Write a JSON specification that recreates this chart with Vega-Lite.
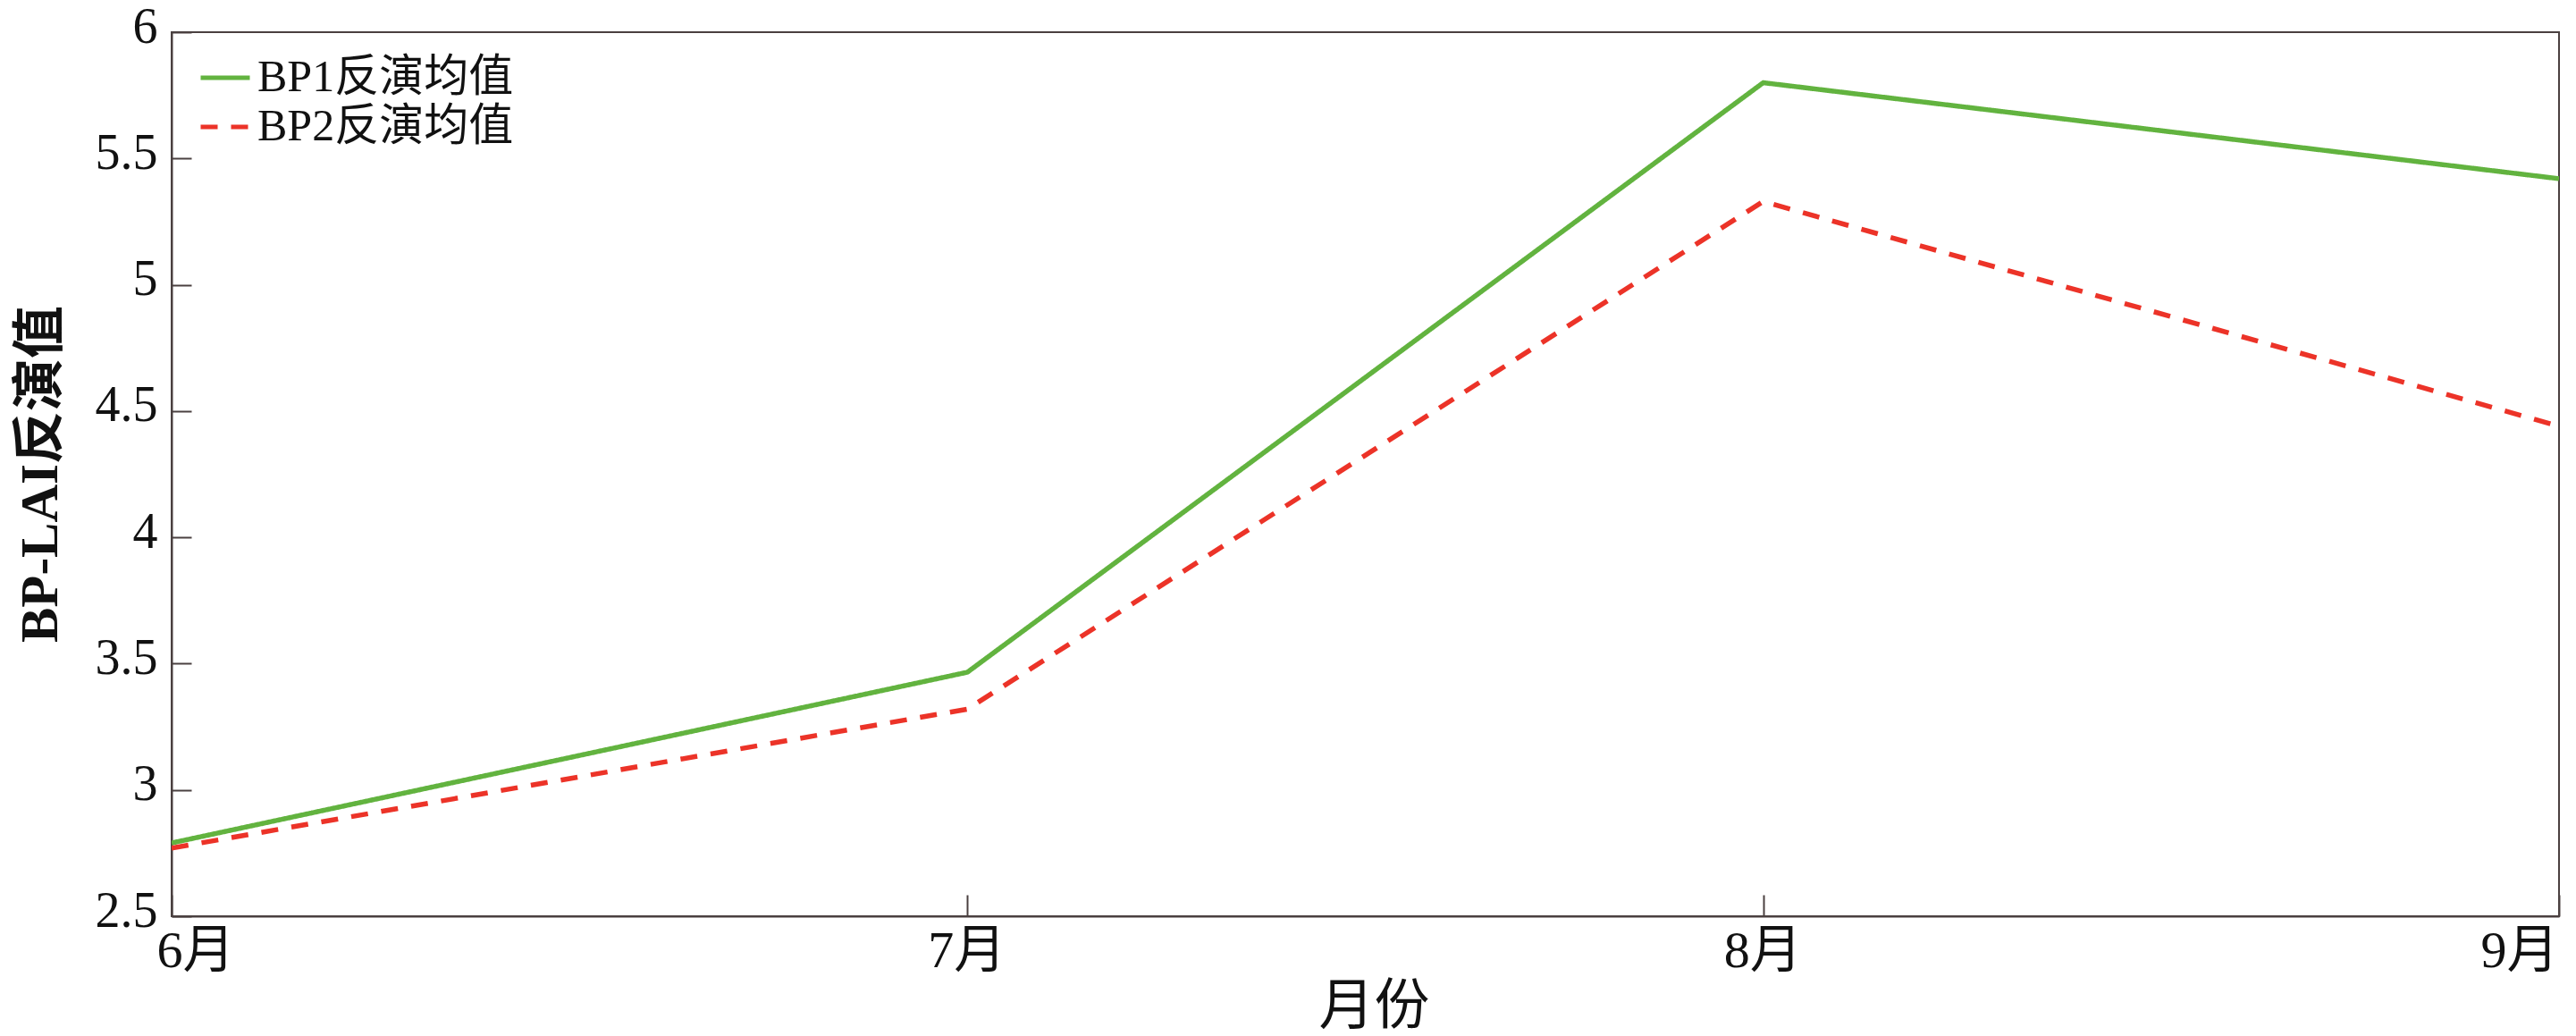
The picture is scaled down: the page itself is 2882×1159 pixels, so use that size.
{
  "$schema": "https://vega.github.io/schema/vega-lite/v6.json",
  "width": 2671,
  "height": 989,
  "autosize": {"type": "none"},
  "padding": {"left": 192, "top": 36, "right": 19, "bottom": 134},
  "background": "white",
  "data": {
    "values": [
      {"month": "6月", "series": "BP1反演均值", "value": 2.79},
      {"month": "7月", "series": "BP1反演均值", "value": 3.466},
      {"month": "8月", "series": "BP1反演均值", "value": 5.80},
      {"month": "9月", "series": "BP1反演均值", "value": 5.42},
      {"month": "6月", "series": "BP2反演均值", "value": 2.77},
      {"month": "7月", "series": "BP2反演均值", "value": 3.32},
      {"month": "8月", "series": "BP2反演均值", "value": 5.33},
      {"month": "9月", "series": "BP2反演均值", "value": 4.44}
    ]
  },
  "mark": {"type": "line", "strokeWidth": 5.5, "clip": true},
  "encoding": {
    "x": {
      "field": "month",
      "type": "ordinal",
      "sort": ["6月", "7月", "8月", "9月"],
      "scale": {"type": "point", "padding": 0},
      "axis": {
        "title": "月份",
        "labelAngle": 0,
        "labelFlush": true,
        "labelFlushOffset": 0,
        "labelOffset": {"condition": {"test": "datum.value === '6月'", "value": -17}, "value": -1},
        "labelFontSize": 58,
        "tickSize": -24,
        "labelPadding": 34,
        "titleX": 1345,
        "titleY": 101,
        "titleBaseline": "middle",
        "titleFontSize": 62,
        "titleFontWeight": "normal"
      }
    },
    "y": {
      "field": "value",
      "type": "quantitative",
      "scale": {"domain": [2.5, 6], "nice": false, "zero": false},
      "axis": {
        "title": "BP-LAI反演值",
        "values": [2.5, 3, 3.5, 4, 4.5, 5, 5.5, 6],
        "format": "~g",
        "tickSize": -22,
        "labelPadding": 38,
        "labelOffset": -6,
        "labelFontSize": 56,
        "titleX": -147,
        "titleY": 494,
        "titleAngle": -90,
        "titleBaseline": "middle",
        "titleFontSize": 59,
        "titleFontWeight": "bold"
      }
    },
    "color": {
      "field": "series",
      "type": "nominal",
      "scale": {"domain": ["BP1反演均值", "BP2反演均值"], "range": ["#62b33f", "#ec3328"]},
      "legend": {"title": null}
    },
    "strokeDash": {
      "field": "series",
      "type": "nominal",
      "scale": {"domain": ["BP1反演均值", "BP2反演均值"], "range": [[1, 0], [19, 15]]},
      "legend": {"title": null}
    }
  },
  "config": {
    "font": "Liberation Serif, Noto Sans CJK SC",
    "view": {"stroke": "#4a4040", "strokeWidth": 2},
    "axis": {
      "grid": false,
      "domainColor": "#4a4040",
      "domainWidth": 2,
      "tickColor": "#4a4040",
      "tickWidth": 2,
      "labelFont": "Liberation Serif, Noto Sans CJK SC",
      "titleFont": "Liberation Serif, Noto Sans CJK SC",
      "labelColor": "#111111",
      "titleColor": "#111111"
    },
    "legend": {
      "orient": "none",
      "legendX": 30,
      "legendY": 21,
      "padding": 0,
      "labelFont": "Liberation Serif, Noto Sans CJK SC",
      "labelFontSize": 50,
      "labelLimit": 0,
      "labelColor": "#111111",
      "symbolType": "stroke",
      "symbolSize": 3025,
      "symbolStrokeWidth": 5,
      "labelOffset": 6,
      "rowPadding": -12
    }
  }
}
